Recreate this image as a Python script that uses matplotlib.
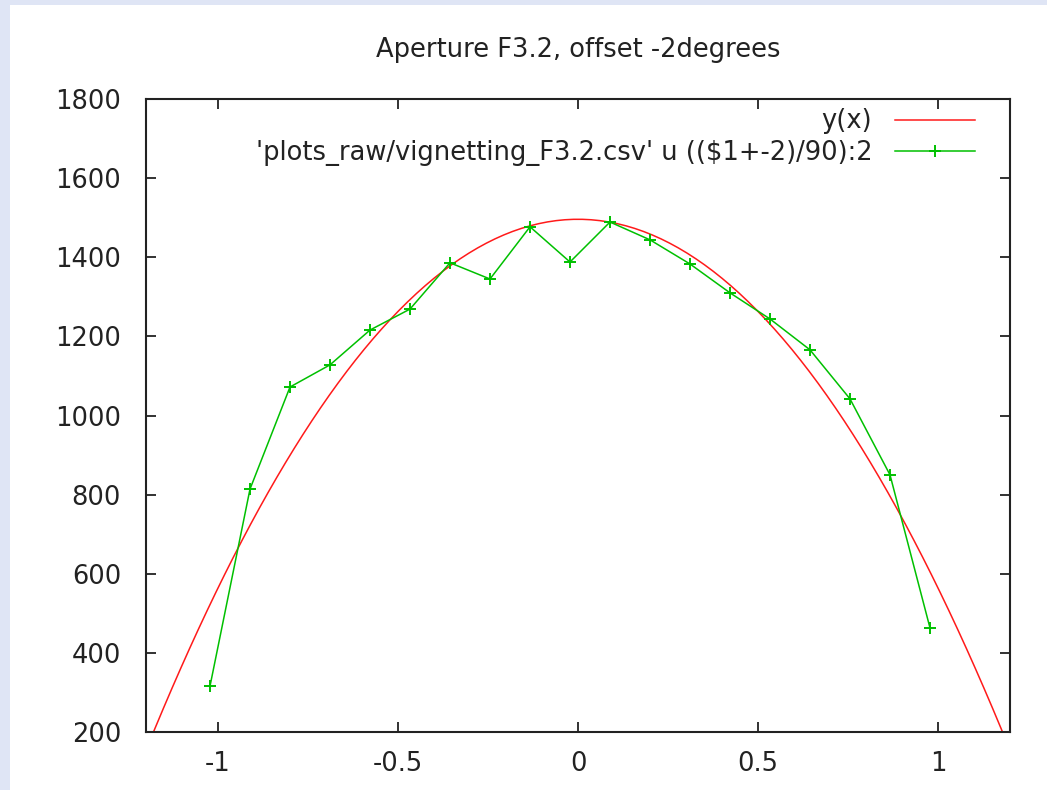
import numpy as np
import matplotlib
matplotlib.use('Agg')
import matplotlib.pyplot as plt
from matplotlib.patches import Rectangle

# measured angles (degrees), shifted by the -2 degree offset and scaled by 90
angles = [-90, -80, -70, -60, -50, -40, -30, -20, -10, 0,
          10, 20, 30, 40, 50, 60, 70, 80, 90]
brightness = [316, 814, 1072, 1128, 1216, 1269, 1386, 1345, 1477, 1388,
              1489, 1444, 1383, 1310, 1244, 1166, 1042, 850, 463]
offset = -2

# fitted curve y(x) = a + b*x + c*x^2
fit_a, fit_b, fit_c = 1496.0, 0.0, -932.0

xticks = [-1, -0.5, 0, 0.5, 1]
xtick_labels = ['-1', '-0.5', '0', '0.5', '1']
yticks = [200, 400, 600, 800, 1000, 1200, 1400, 1600, 1800]

title = 'Aperture F3.2, offset -2degrees'
fit_label = 'y(x)'
data_label = "'plots_raw/vignetting_F3.2.csv' u (($1+-2)/90):2"

W, H = 1047, 790
fig = plt.figure(figsize=(W / 100, H / 100), dpi=100)
fig.patch.set_facecolor('#dfe5f5')
# white page on top of the blue background
fig.add_artist(Rectangle((10 / W, 0), 1 - 10 / W, 1 - 5 / H,
                         transform=fig.transFigure, facecolor='white',
                         edgecolor='none', zorder=-10))

ax = fig.add_axes([146 / W, 1 - 732 / H, 864 / W, 633 / H])
ax.set_facecolor('white')

fs = 18.5
txt = '#222222'

xs = np.linspace(-1.2, 1.2, 100)
ax.plot(xs, fit_a + fit_b * xs + fit_c * xs ** 2, color='#ff1a1a', lw=1.1,
        label=fit_label)

px = [(a + offset) / 90 for a in angles]
ax.plot(px, brightness, color='#00c000', lw=1.1, marker='+', ms=9, mew=1.4,
        label=data_label)

ax.set_xlim(-1.2, 1.2)
ax.set_ylim(200, 1800)
ax.set_xticks(xticks)
ax.set_xticklabels(xtick_labels)
ax.set_yticks(yticks)
ax.tick_params(direction='in', length=7, width=1.3, top=True, right=True,
               labelsize=fs, labelcolor=txt, colors='#222222')
ax.tick_params(axis='y', pad=18)
ax.tick_params(axis='x', pad=14)
for s in ax.spines.values():
    s.set_linewidth(1.5)
    s.set_color('#222222')

ax.set_title(title, fontsize=fs, color=txt, pad=30)

ax.legend(loc='upper right', bbox_to_anchor=(0.9595, 0.985), frameon=False,
          markerfirst=False, fontsize=fs, handlelength=3.1,
          handletextpad=0.9, labelspacing=0.22, borderpad=0,
          borderaxespad=0, labelcolor=txt)

fig.savefig('out.png', dpi=100, facecolor=fig.get_facecolor())
